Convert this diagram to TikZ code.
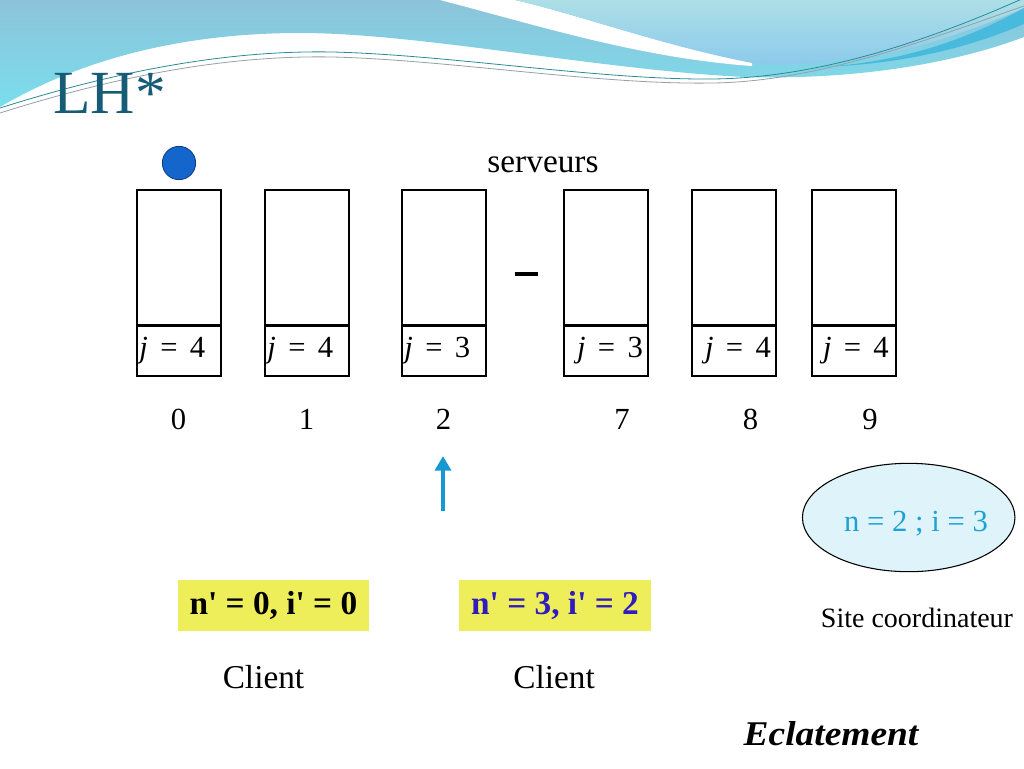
\documentclass[tikz,border=0pt]{standalone}
\usepackage{fontspec}
\setmainfont{Liberation Serif}
\usetikzlibrary{shapes.geometric,arrows.meta}
\definecolor{hdrtop}{RGB}{140,195,218}
\definecolor{hdrbot}{RGB}{122,222,236}
\definecolor{lbtop}{RGB}{172,223,230}
\definecolor{lbbot}{RGB}{138,200,236}
\definecolor{darkband}{RGB}{72,186,221}
\definecolor{titlecol}{RGB}{22,92,118}
\definecolor{lineteal}{RGB}{40,140,150}
\definecolor{linegray}{RGB}{150,160,165}
\definecolor{dotfill}{RGB}{20,102,204}
\definecolor{dotedge}{RGB}{15,60,130}
\definecolor{arrowcol}{RGB}{22,152,212}
\definecolor{yellowbg}{RGB}{238,238,90}
\definecolor{darkbluetxt}{RGB}{48,28,190}
\definecolor{ellfill}{RGB}{222,244,250}
\definecolor{elltxt}{RGB}{30,162,212}
\newcommand{\jlab}[1]{\textit{j}\hspace{0.4em}=\hspace{0.4em}#1}
\begin{document}
\begin{tikzpicture}[x=0.75pt,y=-0.75pt,
  srvbox/.style={draw, line width=1.2pt, minimum width=63pt, minimum height=101.25pt, inner sep=0pt},
  jcell/.style={draw, line width=1.2pt, minimum width=63pt, minimum height=38.25pt, inner sep=0pt, font=\fontsize{23}{27}\selectfont},
  divider/.style={line width=2pt},
  idx/.style={font=\fontsize{23}{27}\selectfont, inner sep=0pt},
  yelbox/.style={fill=yellowbg, minimum width=143.5pt, minimum height=38pt, inner sep=0pt, font=\bfseries\fontsize{25}{29}\selectfont},
  plain/.style={inner sep=0pt, font=\fontsize{25}{29}\selectfont},
  uparrow/.style={draw=arrowcol, line width=3.6pt, -{Triangle[width=12pt,length=11pt]}}
]
\useasboundingbox (0,0) rectangle (1024,768);
\fill[white] (0,0) rectangle (1024,768);
% header decoration
\shade[top color=hdrtop, bottom color=hdrbot]
  (0,0) -- (1024,0) -- (1024,37) .. controls (950,65) and (850,80) .. (745,77)
  .. controls (600,70) and (420,33) .. (300,33) .. controls (180,33) and (80,60) .. (0,107) -- cycle;
\fill[white] (440,0) .. controls (540,26) and (640,58) .. (752,66) -- (752,62)
  .. controls (660,45) and (580,15) .. (515,0) -- cycle;
\shade[top color=lbtop, bottom color=lbbot]
  (515,0) .. controls (580,15) and (660,45) .. (752,63) .. controls (860,70) and (950,40) .. (1024,8) -- (1024,0) -- cycle;
\fill[darkband] (820,67) .. controls (910,62) and (975,35) .. (1024,8) -- (1024,24) .. controls (975,45) and (910,64) .. (820,67) -- cycle;
\draw[lineteal, line width=0.6pt] (0,108) .. controls (120,70) and (230,50) .. (333,52)
  .. controls (450,55) and (600,80) .. (712,79) .. controls (820,78) and (930,40) .. (1024,-2);
\draw[linegray, line width=0.6pt] (0,113) .. controls (120,75) and (230,55) .. (333,57)
  .. controls (450,60) and (600,85) .. (712,83) .. controls (820,82) and (940,35) .. (1024,6);
% title
\node[anchor=base west, inner sep=0pt, text=titlecol, font=\fontsize{46}{50}\selectfont] (title) at (53,113) {LH*};
% marker dot
\node[circle, fill=dotfill, draw=dotedge, line width=0.6pt, minimum size=25pt, inner sep=0pt] (dot) at (179,163) {};
% servers label
\node[plain] (serveurs) at (543,165) {serveurs};
% server boxes
\node[srvbox] (b0) at (179,257.5) {};
\node[srvbox] (b1) at (307,257.5) {};
\node[srvbox] (b2) at (444,257.5) {};
\node[srvbox] (b7) at (606,257.5) {};
\node[srvbox] (b8) at (734,257.5) {};
\node[srvbox] (b9) at (854,257.5) {};
\node[jcell] (c0) at (179,350.5) {\hspace*{-10pt}\jlab{4}};
\node[jcell] (c1) at (307,350.5) {\hspace*{-10pt}\jlab{4}};
\node[jcell] (c2) at (444,350.5) {\hspace*{-10pt}\jlab{3}};
\node[jcell] (c7) at (606,350.5) {\hspace*{6pt}\jlab{3}};
\node[jcell] (c8) at (734,350.5) {\hspace*{6pt}\jlab{4}};
\node[jcell] (c9) at (854,350.5) {\hspace*{3pt}\jlab{4}};
\foreach \b in {b0,b1,b2,b7,b8,b9}{
  \draw[divider] (\b.south west) -- (\b.south east);
}
% dash between groups
\node[fill=black, minimum width=17pt, minimum height=3pt, inner sep=0pt] (gap) at (526.5,274) {};
% indices
\node[idx] (i0) at (178.5,419.5) {0};
\node[idx] (i1) at (306.5,419.5) {1};
\node[idx] (i2) at (443.5,419.5) {2};
\node[idx] (i7) at (622,419.5) {7};
\node[idx] (i8) at (750.5,419.5) {8};
\node[idx] (i9) at (870,419.5) {9};
% arrow
\coordinate (arrS) at (443,511);
\coordinate (arrE) at (443,456);
\draw[uparrow] (arrS) -- (arrE);
% client images
\node[yelbox] (cl1) at (273.4,605.3) {n\textquotesingle{} = 0, i\textquotesingle{} = 0};
\node[yelbox, text=darkbluetxt] (cl2) at (555,605.3) {n\textquotesingle{} = 3, i\textquotesingle{} = 2};
\node[plain] (cl1t) at (263.5,677) {Client};
\node[plain] (cl2t) at (554,677) {Client};
% coordinator
\node[ellipse, draw, fill=ellfill, line width=0.8pt, minimum width=159.4pt, minimum height=81.3pt, inner sep=0pt] (coord) at (908.7,517.5) {};
\node[inner sep=0pt, text=elltxt, font=\fontsize{23}{27}\selectfont] (coordv) at (916,524) {n = 2 ; i = 3};
\node[inner sep=0pt, font=\fontsize{21}{25}\selectfont] (coordt) at (917,618) {Site coordinateur};
% caption
\node[inner sep=0pt, font=\bfseries\itshape\fontsize{26}{30}\selectfont, xscale=1.08] (ecl) at (831,734) {Eclatement};
\end{tikzpicture}
\end{document}
